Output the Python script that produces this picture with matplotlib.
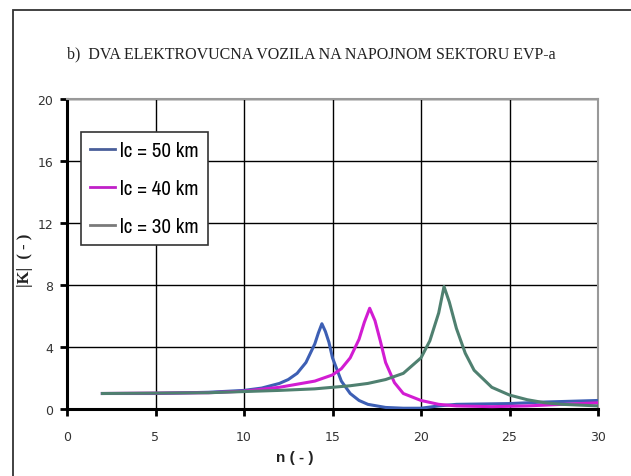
import numpy as np
import matplotlib
matplotlib.use('Agg')
import matplotlib.pyplot as plt
from matplotlib.patches import Rectangle
from matplotlib.font_manager import FontProperties, fontManager


# values
n_50 = [2, 5, 8, 10, 11, 12, 12.5, 13, 13.5, 14, 14.2, 14.4, 14.6, 14.8, 15, 15.5, 16, 16.5, 17, 18, 19, 20, 21, 22, 25, 27, 30]
k_50 = [1.0, 1.0, 1.08, 1.2, 1.35, 1.65, 1.9, 2.3, 3.0, 4.2, 4.9, 5.5, 5.0, 4.3, 3.3, 1.8, 1.0, 0.55, 0.3, 0.1, 0.05, 0.05, 0.2, 0.3, 0.35, 0.45, 0.55]

n_40 = [2, 8, 10, 12, 14, 15, 15.5, 16, 16.5, 16.8, 17.1, 17.4, 17.7, 18, 18.5, 19, 20, 21, 22, 24, 26, 28, 30]
k_40 = [1.0, 1.05, 1.15, 1.4, 1.8, 2.2, 2.6, 3.3, 4.5, 5.6, 6.5, 5.7, 4.4, 3.0, 1.7, 1.0, 0.55, 0.3, 0.2, 0.15, 0.2, 0.3, 0.4]

n_30 = [2, 8, 12, 14, 16, 17, 18, 19, 20, 20.5, 21, 21.3, 21.6, 22, 22.5, 23, 24, 25, 26, 27, 28, 30]
k_30 = [1.0, 1.05, 1.2, 1.3, 1.5, 1.65, 1.9, 2.3, 3.3, 4.4, 6.2, 7.9, 6.9, 5.2, 3.6, 2.5, 1.4, 0.9, 0.6, 0.4, 0.3, 0.2]

labels = ['lc = 50 km', 'lc = 40 km', 'lc = 30 km']
colors = ['#3d5fb4', '#d21cd2', '#4f8070']
legend_colors = ['#4a5f9a', '#c020c8', '#7a7a7a']

x_ticks = [0, 5, 10, 15, 20, 25, 30]
y_ticks = [0, 4, 8, 12, 16, 20]

W, H = 631, 477
fig = plt.figure(figsize=(W / 100, H / 100), dpi=100)
fig.patch.set_facecolor('white')

# outer frame, clipped by the image on the right and bottom
fig.patches.append(Rectangle((13 / W, -0.1), 1.2, 1 - 11 / H + 0.1, transform=fig.transFigure,
                             fill=False, edgecolor='#333333', linewidth=1.3))

ax = fig.add_axes([67 / W, 1 - 410 / H, (598 - 67) / W, (410 - 100) / H])

for xs, ys, c in zip([n_50, n_40, n_30], [k_50, k_40, k_30], colors):
    ax.plot(xs, ys, color=c, linewidth=2.2, zorder=3)

ax.set_xlim(0, 30)
ax.set_ylim(0, 20)
ax.set_xticks(x_ticks)
ax.set_yticks(y_ticks)
ax.grid(True, color='black', linewidth=1.0)
ax.set_axisbelow(True)

for s in ['top', 'right']:
    ax.spines[s].set_color('#999999')
    ax.spines[s].set_linewidth(1.5)
for s in ['left', 'bottom']:
    ax.spines[s].set_color('black')
    ax.spines[s].set_linewidth(2.2)

ax.tick_params(axis='both', direction='out', length=5, width=2, color='black',
               labelsize=9, labelcolor='#333333')
ax.tick_params(axis='x', pad=10)
ax.tick_params(axis='y', pad=5)

# condensed face if one is installed
narrow = [f.name for f in fontManager.ttflist if 'Narrow' in f.name or 'Condensed' in f.name]
if narrow:
    leg_font = FontProperties(family=narrow[0], size=15)
else:
    leg_font = FontProperties(family='DejaVu Sans', stretch='condensed', size=15)

handles = [plt.Line2D([], [], color=c, linewidth=2.0) for c in legend_colors]
leg = ax.legend(handles, labels, loc='upper left', bbox_to_anchor=((81 - 67) / (598 - 67), 1 - (133 - 100) / 310),
                frameon=True, fancybox=False, edgecolor='#333333', framealpha=1, prop=leg_font,
                handlelength=1.2, handletextpad=0.2, labelspacing=0.9, borderpad=0.45, borderaxespad=0)
leg.get_frame().set_linewidth(1.2)
leg.set_zorder(5)

fig.text(67 / W, 1 - 58 / H, 'b)  DVA ELEKTROVUCNA VOZILA NA NAPOJNOM SEKTORU EVP-a',
         family='Liberation Serif', fontsize=11.5, color='#222222', va='baseline', ha='left')
fig.text(295 / W, 1 - 458 / H, 'n ( - )', family='Liberation Sans', fontweight='bold',
         fontsize=11, ha='center', va='center', color='#222222')
fig.text(25 / W, 1 - 260 / H, '|K|  ( - )', family='Liberation Serif', fontweight='bold',
         fontsize=12, rotation=90, ha='center', va='center', color='#222222')

fig.savefig('out.png', dpi=100)
